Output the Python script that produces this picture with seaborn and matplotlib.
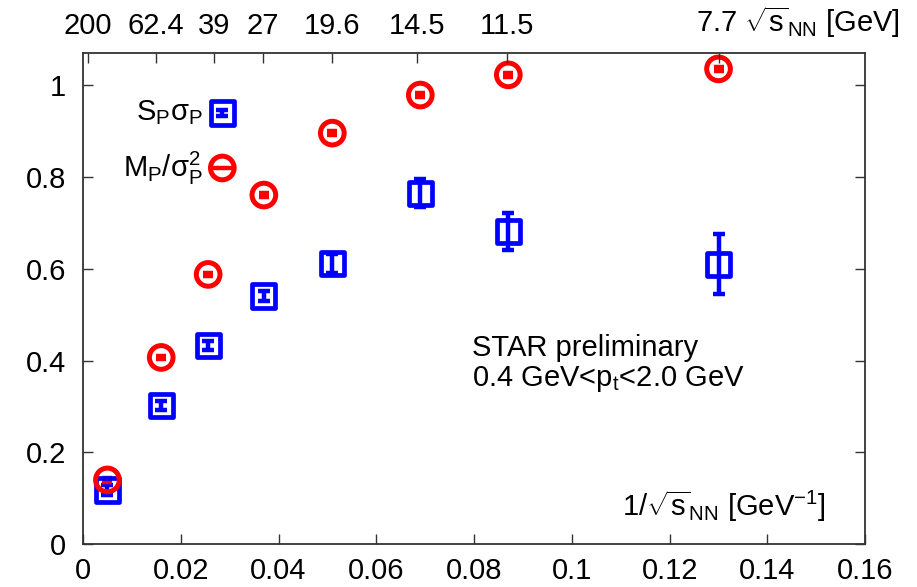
import numpy as np
import pandas as pd
import matplotlib
matplotlib.use("Agg")
import matplotlib.pyplot as plt
import seaborn as sns

# Beam energies and their inverse values on the lower axis
energies = ["200", "62.4", "39", "27", "19.6", "14.5", "11.5", "7.7"]
inv_s = [0.005, 0.016, 0.0256, 0.037, 0.051, 0.069, 0.087, 0.130]

# Proton cumulant ratios
s_sigma = [0.118, 0.302, 0.433, 0.541, 0.612, 0.765, 0.682, 0.610]
s_sigma_err = [0.010, 0.010, 0.010, 0.010, 0.020, 0.030, 0.040, 0.065]
m_over_sigma2 = [0.140, 0.407, 0.588, 0.761, 0.896, 0.979, 1.023, 1.036]
m_over_sigma2_err = [0.004, 0.004, 0.004, 0.004, 0.004, 0.004, 0.004, 0.004]

# Upper-axis tick placement for the energy labels
top_tick_pos = [0.001, 0.0149, 0.0268, 0.0368, 0.051, 0.0684, 0.0868, 0.130]

sns.set_style("ticks")
plt.rcParams["font.family"] = ["Liberation Sans", "DejaVu Sans"]
plt.rcParams["mathtext.fontset"] = "custom"
plt.rcParams["mathtext.rm"] = "Liberation Sans"
plt.rcParams["mathtext.it"] = "Liberation Sans"
plt.rcParams["mathtext.sf"] = "Liberation Sans"
plt.rcParams["text.color"] = "black"

FS = 21

df = pd.DataFrame({"x": inv_s, "s": s_sigma, "se": s_sigma_err,
                   "m": m_over_sigma2, "me": m_over_sigma2_err})

fig = plt.figure(figsize=(9.17, 5.87), dpi=100)
ax = fig.add_axes([0.0905, 0.073, 0.853, 0.837])

blue = "#0000ff"
red = "#ff0000"

# Error bars
ax.errorbar(df["x"], df["s"], yerr=df["se"], fmt="none", ecolor=blue,
            elinewidth=3.2, capsize=4.5, capthick=3.2, zorder=3)
ax.errorbar(df["x"], df["m"], yerr=df["me"], fmt="none", ecolor=red,
            elinewidth=3.2, capsize=3.5, capthick=3.2, zorder=3)

# Markers
sns.scatterplot(data=df, x="x", y="s", ax=ax, marker="s", s=280,
                facecolor="none", edgecolor=blue, linewidth=3.4, zorder=4)
sns.scatterplot(data=df, x="x", y="m", ax=ax, marker="o", s=290,
                facecolor="none", edgecolor=red, linewidth=3.6, zorder=4)

ax.set_xlim(0, 0.16)
ax.set_ylim(0, 1.071)
ax.set_xticks(np.arange(0, 0.161, 0.02))
ax.set_xticklabels(["0", "0.02", "0.04", "0.06", "0.08", "0.1", "0.12", "0.14", "0.16"])
ax.set_yticks([0, 0.2, 0.4, 0.6, 0.8, 1.0])
ax.set_yticklabels(["0", "0.2", "0.4", "0.6", "0.8", "1"])
ax.set_xlabel("")
ax.set_ylabel("")
ax.tick_params(axis="both", direction="in", length=7, width=1.0,
               labelsize=FS, pad=9, right=True, colors="#333333",
               labelcolor="black")
ax.tick_params(axis="y", pad=12)

for sp in ax.spines.values():
    sp.set_linewidth(1.3)
    sp.set_color("#333333")

# Energy axis on top
top = ax.twiny()
top.set_xlim(ax.get_xlim())
top.set_xticks(top_tick_pos)
top.set_xticklabels(energies[:-1] + [""])
top.tick_params(axis="x", direction="in", length=7, width=1.0, labelsize=FS,
                pad=9, colors="#333333", labelcolor="black")
for sp in top.spines.values():
    sp.set_visible(False)

tf = ax.get_xaxis_transform()
ax.text(0.1254, 1.0 + 0.027, "7.7 $\\sqrt{\\mathregular{s}}_{\\mathregular{NN}}$ [GeV]",
        transform=tf, ha="left", va="bottom", fontsize=FS)

# Axis title inside the frame
ax.text(0.1103, 0.082, "1/$\\sqrt{\\mathregular{s}}_{\\mathregular{NN}}$ [GeV$^{\\mathregular{-1}}$]",
        ha="left", va="center", fontsize=FS)

# Annotation
ax.text(0.0795, 0.428, "STAR preliminary", ha="left", va="center", fontsize=FS)
ax.text(0.0795, 0.36, "0.4 GeV<p$_{\\mathregular{t}}$<2.0 GeV", ha="left", va="center", fontsize=FS)

# Legend entries
leg_x = 0.0285
ax.text(0.0245, 0.94, "S$_{\\mathregular{P}}$σ$_{\\mathregular{P}}$", ha="right", va="center", fontsize=FS)
ax.text(0.0245, 0.82, "M$_{\\mathregular{P}}$/σ$_{\\mathregular{P}}^{\\mathregular{2}}$", ha="right", va="center", fontsize=FS)
ax.errorbar([leg_x], [0.94], yerr=[0.006], fmt="none", ecolor=blue,
            elinewidth=3.2, capsize=4.5, capthick=3.2, zorder=3)
ax.scatter([leg_x], [0.94], marker="s", s=280, facecolor="none",
           edgecolor=blue, linewidth=3.4, zorder=4)
ax.plot([leg_x - 0.0018, leg_x + 0.0018], [0.82, 0.82], color=red, lw=3.2, zorder=3)
ax.scatter([leg_x], [0.82], marker="o", s=290, facecolor="none",
           edgecolor=red, linewidth=3.6, zorder=4)

fig.savefig("out.png", dpi=100)
